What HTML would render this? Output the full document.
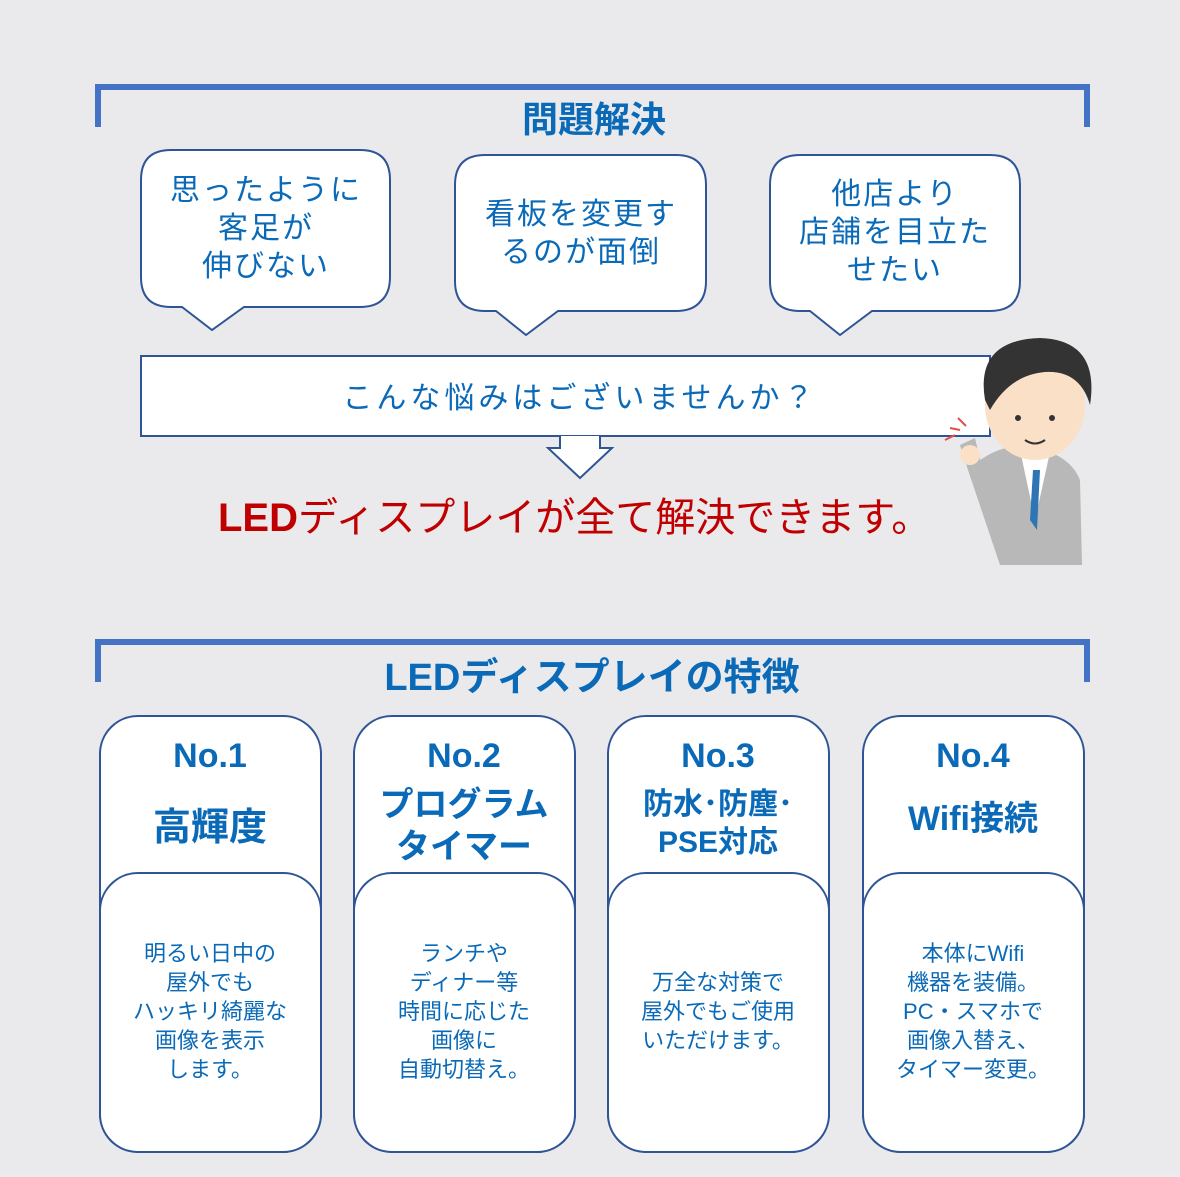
<!DOCTYPE html>
<html><head><meta charset="utf-8"><style>
body{margin:0;width:1180px;height:1172px;overflow:hidden;background:#ebebed}
svg text{font-family:"Liberation Sans","Noto Sans CJK JP",sans-serif}
</style></head><body>
<svg width="1180" height="1172" viewBox="0 0 1180 1172" xmlns="http://www.w3.org/2000/svg">
<rect width="1180" height="1172" fill="#eaeaec"/>
<g fill="none" stroke="#4472c4" stroke-width="6" stroke-linejoin="miter">
<path d="M98 127 V87 H1087 V127"/>
<path d="M98 682 V642 H1087 V682"/>
</g>
<text x="594" y="132" font-size="36" font-weight="bold" fill="#0a6ab8" text-anchor="middle">問題解決</text>
<g fill="#fff" stroke="#2f5597" stroke-width="2">
<path d="M171 150 H360 Q390 150 390 180 V277 Q390 307 360 307 H244 L212 330 L182 307 H171 Q141 307 141 277 V180 Q141 150 171 150Z"/>
<path d="M485 155 H676 Q706 155 706 185 V281 Q706 311 676 311 H558 L526 335 L496 311 H485 Q455 311 455 281 V185 Q455 155 485 155Z"/>
<path d="M800 155 H990 Q1020 155 1020 185 V281 Q1020 311 990 311 H872 L840 335 L810 311 H800 Q770 311 770 281 V185 Q770 155 800 155Z"/>
<rect x="141" y="356" width="849" height="80"/>
<path d="M560 436 V448 H548 L580 478 L612 448 H600 V436"/>
</g>
<g font-size="30" fill="#0a6ab8" text-anchor="middle" letter-spacing="2">
<text x="266" y="200">思ったように</text><text x="266" y="238">客足が</text><text x="266" y="276">伸びない</text>
<text x="581" y="224">看板を変更す</text><text x="581" y="262">るのが面倒</text>
<text x="895" y="204">他店より</text><text x="895" y="242">店舗を目立た</text><text x="895" y="280">せたい</text>
<text x="580" y="408" letter-spacing="4">こんな悩みはございませんか？</text>
</g>
<text x="218" y="531" font-size="40" fill="#c00000"><tspan font-weight="bold">LED</tspan>ディスプレイが全て解決できます。</text>
<!-- man -->
<g>
<path d="M968 470 Q1000 440 1035 448 Q1070 455 1080 480 L1082 565 H1000 Z" fill="#b8b8b8"/>
<path d="M1020 450 L1035 520 L1050 452Z" fill="#fff"/>
<path d="M1033 470 L1030 520 L1037 530 L1040 470Z" fill="#2e75b6"/>
<path d="M968 470 L960 445 L975 438 L985 480Z" fill="#b8b8b8"/>
<circle cx="970" cy="455" r="10" fill="#fbe0c8"/>
<ellipse cx="1035" cy="405" rx="50" ry="55" fill="#fbe0c8"/>
<path d="M985 400 Q975 340 1040 338 Q1100 340 1090 405 Q1080 370 1045 372 Q1010 375 990 410Z" fill="#333"/>
<circle cx="1018" cy="418" r="3" fill="#333"/><circle cx="1052" cy="418" r="3" fill="#333"/>
<path d="M1025 440 Q1035 447 1045 440" stroke="#333" stroke-width="2" fill="none"/>
<path d="M945 440 l10 -5 M950 428 l10 2 M958 418 l8 8" stroke="#e05050" stroke-width="2"/>
</g>
<text x="592" y="690" font-size="38" font-weight="bold" fill="#0a6ab8" text-anchor="middle">LEDディスプレイの特徴</text>
<g fill="#fff" stroke="#2f5597" stroke-width="2">
<rect x="100" y="716" width="221" height="436" rx="38"/>
<rect x="354" y="716" width="221" height="436" rx="38"/>
<rect x="608" y="716" width="221" height="436" rx="38"/>
<rect x="863" y="716" width="221" height="436" rx="38"/>
<rect x="100" y="873" width="221" height="279" rx="38"/>
<rect x="354" y="873" width="221" height="279" rx="38"/>
<rect x="608" y="873" width="221" height="279" rx="38"/>
<rect x="863" y="873" width="221" height="279" rx="38"/>
</g>
<g font-weight="bold" fill="#0a6ab8" text-anchor="middle">
<g font-size="34"><text x="210" y="767">No.1</text><text x="464" y="767">No.2</text><text x="718" y="767">No.3</text><text x="973" y="767">No.4</text></g>
<text x="210" y="840" font-size="38">高輝度</text>
<text x="464" y="816" font-size="34">プログラム</text><text x="464" y="858" font-size="34">タイマー</text>
<text x="718" y="814" font-size="30">防水･防塵･</text><text x="718" y="852" font-size="30">PSE対応</text>
<text x="973" y="830" font-size="34">Wifi接続</text>
</g>
<g font-size="22" fill="#0a6ab8" text-anchor="middle">
<text x="210" y="961">明るい日中の</text><text x="210" y="990">屋外でも</text><text x="210" y="1019">ハッキリ綺麗な</text><text x="210" y="1048">画像を表示</text><text x="210" y="1077">します。</text>
<text x="464" y="961">ランチや</text><text x="464" y="990">ディナー等</text><text x="464" y="1019">時間に応じた</text><text x="464" y="1048">画像に</text><text x="464" y="1077">自動切替え。</text>
<text x="718" y="990">万全な対策で</text><text x="718" y="1019">屋外でもご使用</text><text x="718" y="1048">いただけます。</text>
<text x="973" y="961">本体にWifi</text><text x="973" y="990">機器を装備。</text><text x="973" y="1019">PC・スマホで</text><text x="973" y="1048">画像入替え、</text><text x="973" y="1077">タイマー変更。</text>
</g>
</svg>
</body></html>
